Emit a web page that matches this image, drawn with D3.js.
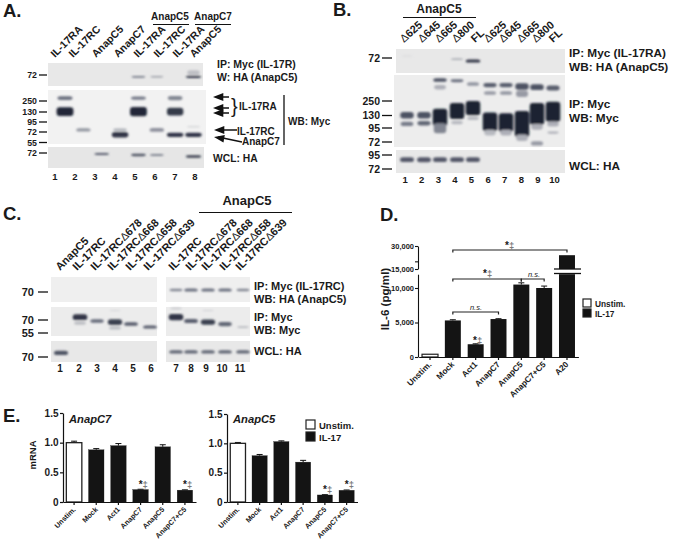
<!DOCTYPE html>
<html><head><meta charset="utf-8">
<style>html,body{margin:0;padding:0;background:#fff}svg{display:block}
text{font-family:"Liberation Sans",Arial,sans-serif;font-weight:bold;fill:#1a1a1a}</style>
<script src="https://cdn.jsdelivr.net/npm/d3@7"></script></head><body>
<script>
// ---------- DATA ----------
// Bar charts
const catsD = ["Unstim.","Mock","Act1","AnapC7","AnapC5","AnapC7+C5","A20"];
const valsD = [400,5300,1850,5500,10500,10000,24000];
const errD  = [0,100,60,50,250,280,0];
const catsE = ["Unstim.","Mock","Act1","AnapC7","AnapC5","AnapC7+C5"];
const valsE7 = [1.0,0.88,0.95,0.21,0.93,0.20];
const errE7  = [0.025,0.02,0.035,0.005,0.035,0.005];
const valsE5 = [1.0,0.79,1.03,0.68,0.12,0.20];
const errE5  = [0.015,0.02,0.012,0.03,0.005,0.005];
// Blot lane labels
const lanesA = ["IL-17RA","IL-17RC","AnapC5","AnapC7","IL-17RA","IL-17RC","IL-17RA","AnapC5"];
const lanesB = ["Δ625","Δ645","Δ665","Δ800","FL","Δ625","Δ645","Δ665","Δ800","FL"];
const lanesC = ["AnapC5","IL-17RC","IL-17RCΔ678","IL-17RCΔ668","IL-17RCΔ658","IL-17RCΔ639","IL-17RC","IL-17RCΔ678","IL-17RCΔ668","IL-17RCΔ658","IL-17RCΔ639"];
// Blot bands: [lane, mobility in panel (0 top..1 bottom), intensity 0..1, spread (share of panel height)]
const bandsA1 = [[5,.6,.55,.08],[6,.6,.38,.07],[8,.6,.9,.1],[8,.42,.2,.2]];
const bandsA2 = [[1,.15,.6,.07],[1,.4,.97,.16],[2,.74,.42,.06],[4,.74,.3,.05],[4,.83,.9,.1],
  [5,.15,.55,.06],[5,.4,.97,.17],[6,.74,.45,.07],[7,.15,.5,.08],[7,.4,.88,.14],[7,.83,.9,.08],[8,.68,.2,.02],[8,.83,.9,.08]];
const bandsA3 = [[3,.33,.7,.1],[5,.38,.75,.11],[6,.38,.5,.1],[8,.45,.85,.12]];
const bandsB1 = [[1,.29,.08,.04],[4,.42,.4,.05],[5,.5,.9,.13]];
const bandsB2 = [[1,.56,.75,.09],[1,.68,.55,.06],[2,.56,.75,.09],[2,.67,.65,.06],
  [3,.07,.75,.05],[3,.17,.3,.06],[3,.59,1,.24],[3,.74,.5,.14],
  [4,.08,.6,.04],[4,.5,1,.22],[4,.66,.25,.05],[5,.125,.42,.05],[5,.46,1,.2],[5,.6,.25,.05],
  [6,.14,.7,.06],[6,.25,.4,.05],[6,.65,1,.26],[6,.8,.25,.08],[7,.14,.7,.06],[7,.25,.42,.05],[7,.66,1,.26],[7,.8,.3,.08],
  [8,.16,.75,.09],[8,.26,.4,.09],[8,.68,1,.36],[8,.87,.3,.09],[9,.17,.75,.08],[9,.54,1,.3],[9,.72,.3,.08],[9,.95,.4,.06],
  [10,.18,.7,.07],[10,.51,1,.28],[10,.68,.3,.07],[10,.8,.3,.03]];
const bandsB3 = [[1,.42,.72,.2],[2,.42,.72,.22],[3,.42,.72,.2],[4,.42,.72,.2],[5,.42,.72,.2]];
const bandsC1 = [[7,.52,.5,.1],[8,.52,.6,.12],[9,.52,.6,.12],[10,.52,.6,.12],[11,.52,.5,.1]];
const bandsC2 = [[2,.35,.9,.2],[2,.55,.22,.12],[3,.48,.62,.12],[4,.12,.12,.04],[4,.52,.85,.2],[4,.72,.22,.12],[5,.59,.7,.12],[6,.69,.7,.11],
  [7,.05,.2,.05],[7,.35,.9,.22],[8,.48,.7,.14],[9,.12,.15,.04],[9,.52,.85,.18],[10,.59,.65,.14],[11,.69,.25,.06]];
const bandsC3 = [[1,.57,.75,.2],[7,.52,.65,.16],[8,.52,.65,.16],[9,.52,.65,.16],[10,.52,.65,.16],[11,.52,.65,.16]];

// ---------- LAYOUT ----------
const W=673,H=543;
const svg=d3.select("body").append("svg").attr("width",W).attr("height",H);
const defs=svg.append("defs");
defs.append("filter").attr("id","blur").attr("x","-30%").attr("y","-80%").attr("width","160%").attr("height","260%")
  .append("feGaussianBlur").attr("stdDeviation","1.1 0.9");
const laneX={
 A:d3.scaleLinear().domain([1,8]).range([65,193.5]),
 B:d3.scaleLinear().domain([1,2,3,4,5,6,7,8,9,10]).range([407,424,440,457,473,490,506,522,537,553]),
 C:d3.scaleLinear().domain([1,2,3,4,5,6,7,8,9,10,11]).range([61,80,97,115,131,150,176,191,208,225,243])
};
function txt(x,y,s,size,opt={}){
  const t=svg.append("text").attr("x",x).attr("y",y).attr("font-size",size);
  String(s).split(/(Δ)/).filter(p=>p).forEach(p=>{
    const sp=t.append("tspan").text(p);
    if(p==="Δ")sp.style("font-weight","normal");
  });
  if(opt.anchor)t.attr("text-anchor",opt.anchor);
  if(opt.rot!==undefined)t.attr("transform",`rotate(${opt.rot},${x},${y})`);
  if(opt.italic)t.style("font-style","italic");
  if(opt.fill)t.style("fill",opt.fill);
  if(opt.normal)t.style("font-weight","normal");
  return t;
}
function line(x1,y1,x2,y2,w=1.2,c="#111"){svg.append("line").attr("x1",x1).attr("y1",y1).attr("x2",x2).attr("y2",y2).attr("stroke",c).attr("stroke-width",w);}
function blot(x0,x1,y0,y1,bands,lx,laneW,bg="#ececec"){
  svg.append("rect").attr("x",x0).attr("y",y0).attr("width",x1-x0).attr("height",y1-y0).attr("fill",bg);
  const my=d3.scaleLinear().domain([0,1]).range([y0,y1]);
  const col=d3.scaleLinear().domain([0,.6,1]).range([bg,"#6c7180","#1c2233"]);
  const g=svg.append("g").attr("filter","url(#blur)");
  g.selectAll("rect").data(bands).join("rect")
   .attr("x",d=>lx(d[0])-laneW*(.72+.28*d[2])/2)
   .attr("width",d=>laneW*(.72+.28*d[2]))
   .attr("y",d=>my(d[1])-d[3]*(y1-y0)/2)
   .attr("height",d=>Math.max(1,d[3]*(y1-y0)))
   .attr("rx",3).attr("fill",d=>col(d[2]));
}
function mwTicks(list,x0,x1,size,lx){
  list.forEach(([lab,y])=>{line(x0,y,x1,y,1.3);txt(lx,y+size*.36,lab,size,{anchor:"end"});});
}
function arrow(x1,y1,x2,y2){ // head at x2,y2
  line(x1,y1,x2+4,y2,1.5);
  const a=Math.atan2(y1-y2,x1-x2),L=11,b=.36;
  svg.append("path").attr("d",`M${x2},${y2}L${x2+L*Math.cos(a-b)},${y2+L*Math.sin(a-b)}L${x2+L*Math.cos(a+b)},${y2+L*Math.sin(a+b)}Z`).attr("fill","#111");
}
// ---------- PANEL LETTERS ----------
[["A.",3,17],["B.",333,16],["C.",3,220],["D.",380,221],["E.",3,422]].forEach(d=>txt(d[1],d[2],d[0],18.5));

// ---------- PANEL A ----------
txt(170,20,"AnapC5",10,{anchor:"middle"});txt(213,20,"AnapC7",10,{anchor:"middle"});
line(153,24.5,189,24.5,1);line(195,24.5,231,24.5,1);
const aLabX=[55,73,96,118,138,158,177,194];
lanesA.forEach((s,i)=>txt(aLabX[i],58,s,10.5,{rot:-45}));
blot(48,203,63,86,bandsA1,laneX.A,16,"#e8e8e8");
blot(48,206,90,144,bandsA2,laneX.A,17,"#f2f2f2");
blot(48,204,147,168,bandsA3,laneX.A,16,"#e6e6e6");
mwTicks([["72",75]],39,47,8.8,37);
mwTicks([["250",101],["130",112],["95",122],["72",132],["55",142.5]],39,47,8.8,37);
mwTicks([["72",153]],39,47,8.8,37);
d3.range(1,9).forEach(i=>txt(35+i*20,180,i,9.5,{anchor:"middle"}));
txt(217,68,"IP: Myc (IL-17R)",10.5);txt(217,81,"W: HA (AnapC5)",10.5);
arrow(229,97,213,97);arrow(229,108,213,108);arrow(229,113,213,113);
txt(231,113,"}",20,{normal:true});
txt(239,110,"IL-17RA",10);txt(237,134.5,"IL-17RC",10);txt(242,144.5,"AnapC7",10);
arrow(237,130,214,130);arrow(242,142,214,137);
line(284,95,284,145,1.3);txt(288,125,"WB: Myc",10);
txt(213,162,"WCL: HA",10.3);

// ---------- PANEL B ----------
txt(439,13,"AnapC5",12,{anchor:"middle"});line(403,17.5,476,17.5,1.2);
const bLabX=[404,422,439,456,475,488,503,521,536,553];
lanesB.forEach((s,i)=>txt(bLabX[i],43,s,11,{rot:-42}));
blot(396,565,49,73,bandsB1,laneX.B,15,"#e8e8e8");
blot(394,565,75,147,bandsB2,laneX.B,14.5,"#ededed");
blot(396,565,150,173,bandsB3,laneX.B,15,"#e8e8e8");
mwTicks([["72",58]],382,392,10.5,380);
mwTicks([["250",101],["130",115.5],["95",128],["72",142]],382,392,10.5,380);
mwTicks([["95",155],["72",169]],382,392,10.5,380);
d3.range(1,11).forEach(i=>txt(388.5+i*16.6,183,i,9.5,{anchor:"middle"}));
txt(569,57,"IP: Myc (IL-17RA)",11.8);txt(569,71,"WB: HA (AnapC5)",11.8);
txt(569,108,"IP: Myc",11.8);txt(569,122,"WB: Myc",11.8);txt(569,170,"WCL: HA",11.8);

// ---------- PANEL C ----------
txt(247,205,"AnapC5",13,{anchor:"middle"});line(199,212.5,292,212.5,1.2);
const cLabX=[60,77,95,112,130,148,173,190,206,224,240];
lanesC.forEach((s,i)=>txt(cLabX[i],271,s,11,{rot:-45}));
[[277,302,bandsC1,"#efefef"],[307,336,bandsC2,"#ececec"],[341,362,bandsC3,"#e8e8e8"]].forEach(([a,b,bd,bg])=>{
  blot(51,157,a,b,bd.filter(d=>d[0]<7),laneX.C,15,bg);
  blot(166,250,a,b,bd.filter(d=>d[0]>=7),laneX.C,15,bg);
});
mwTicks([["70",292]],38,48,11,34);
mwTicks([["70",320],["55",333]],38,48,11,34);
mwTicks([["70",357]],38,48,11,34);
const cNumX=[60,79,97,115,133,151,176,191,206,222,240];
cNumX.forEach((x,i)=>txt(x,372,i+1,10,{anchor:"middle"}));
txt(254,290,"IP: Myc (IL-17RC)",11);txt(254,303,"WB: HA (AnapC5)",11);
txt(254,321,"IP: Myc",11);txt(254,334,"WB: Myc",11);txt(254,355,"WCL: HA",11);

// ---------- BAR CHART HELPERS ----------
function styleAxis(g,size,w){
  g.selectAll("path,line").attr("stroke","#111").attr("stroke-width",w);
  g.selectAll("text").attr("font-size",size);
}
function xAxis(x,y0,size){
  const g=svg.append("g").attr("transform",`translate(0,${y0})`).call(d3.axisBottom(x).tickSize(3).tickSizeOuter(0));
  styleAxis(g,size,1.2);
  g.selectAll("text").attr("text-anchor","end").attr("dx","0").attr("dy","0").attr("x",2).attr("y",8)
    .attr("transform","rotate(-45,2,8)");
}
function errBars(x,y,vals,errs,cats){
  cats.forEach((c,i)=>{ if(!errs[i])return;
    const cx=x(c)+x.bandwidth()/2,t=y(vals[i]+errs[i]);
    line(cx,y(vals[i]),cx,t,1);line(cx-3,t,cx+3,t,1);
  });
}
function mark(x,y){ txt(x,y,"*",10,{anchor:"end"});txt(x,y,"‡",9.5,{fill:"#777"}); }

// ---------- PANEL D ----------
const xD=d3.scaleBand().domain(catsD).range([418.6,578.4]).paddingInner(.3).paddingOuter(.15);
const yLow=d3.scaleLinear().domain([0,12000]).range([357,274.2]);
const yUp=d3.scaleLinear().domain([15000,30000]).range([269,246]);
const fmt=d3.format(",");
const gL=svg.append("g").attr("transform","translate(418,0)").call(d3.axisLeft(yLow).tickValues([0,5000,10000]).tickFormat(fmt).tickSize(3).tickPadding(1).tickSizeOuter(0));
styleAxis(gL,7.5,1.1);
const gU=svg.append("g").attr("transform","translate(418,0)").call(d3.axisLeft(yUp).tickValues([15000,20000,30000]).tickFormat(d=>d===20000?"":fmt(d)).tickSize(3).tickPadding(1).tickSizeOuter(0));
styleAxis(gU,7.5,1.1);
errBars(xD,yLow,valsD,errD,catsD);
catsD.forEach((c,i)=>{
  const v=valsD[i],bx=xD(c),bw=xD.bandwidth();
  const r=(y0,y1)=>svg.append("rect").attr("x",bx).attr("width",bw).attr("y",y0).attr("height",y1-y0)
     .attr("fill",i===0?"#fff":"#141414").attr("stroke",i===0?"#222":"none").attr("stroke-width",1.2);
  if(v<=12000) r(yLow(v),yLow(0));
  else { r(yUp(v),yUp(15000)); r(yLow(12000),yLow(0)); }
});
line(554,269,581,269,1.3);line(554,273.5,581,273.5,1.3);
xAxis(xD,357,8.3);
txt(389,299,"IL-6 (pg/ml)",11.6,{anchor:"middle",rot:-90});
function bracket(c1,c2,yv){
  const a=xD(c1)+xD.bandwidth()/2,b=xD(c2)+xD.bandwidth()/2;
  svg.append("path").attr("fill","none").attr("stroke","#222").attr("stroke-width",1.2)
    .attr("d",`M${a},${yv+2.5}V${yv}H${b}V${yv+2.5}`);
}
bracket("Mock","A20",250);bracket("Mock","AnapC5",279);bracket("AnapC5","AnapC7+C5",279);bracket("Mock","AnapC7",312);
mark(509,249);mark(487,277);mark(477,344);
txt(534,277,"n.s.",7.5,{anchor:"middle",italic:true,normal:true});
txt(476,310,"n.s.",7.5,{anchor:"middle",italic:true,normal:true});
[[583,299,"#fff","Unstim."],[583,309,"#111","IL-17"]].forEach(d=>{
  svg.append("rect").attr("x",d[0]).attr("y",d[1]).attr("width",8).attr("height",8).attr("fill",d[2]).attr("stroke","#222").attr("stroke-width",1.2);
  txt(595,d[1]+7.5,d[3],8.3);
});

// ---------- PANEL E ----------
function barE(vals,errs,x0,x1,y0,yTop,title,titleX){
  const x=d3.scaleBand().domain(catsE).range([x0,x1]).paddingInner(.3).paddingOuter(.15);
  const y=d3.scaleLinear().domain([0,1.5]).range([y0,yTop]);
  const ga=svg.append("g").attr("transform",`translate(${x0},0)`).call(d3.axisLeft(y).tickValues([0,.5,1,1.5]).tickFormat(d=>d===0?"0":d3.format(".1f")(d)).tickSize(3).tickPadding(1.5).tickSizeOuter(0));
  styleAxis(ga,10,1.2);
  errBars(x,y,vals,errs,catsE);
  svg.append("g").selectAll("rect").data(catsE).join("rect")
    .attr("x",c=>x(c)).attr("width",x.bandwidth()).attr("y",(c,i)=>y(vals[i])).attr("height",(c,i)=>y(0)-y(vals[i]))
    .attr("fill",(c,i)=>i===0?"#fff":"#141414").attr("stroke","#222").attr("stroke-width",(c,i)=>i===0?1.3:0.3);
  xAxis(x,y0,7.2);
  txt(titleX,423,title,11.2,{italic:true});
  return {x,y};
}
const e7=barE(valsE7,errE7,63,196,502,413,"AnapC7",69);
const e5=barE(valsE5,errE5,227,357.5,502,414,"AnapC5",233);
mark(e7.x("AnapC7")+e7.x.bandwidth()/2+2,e7.y(valsE7[3])-2);
mark(e7.x("AnapC7+C5")+e7.x.bandwidth()/2+2,e7.y(valsE7[5])-2);
mark(e5.x("AnapC5")+e5.x.bandwidth()/2+2,e5.y(valsE5[4])-2);
mark(e5.x("AnapC7+C5")+e5.x.bandwidth()/2+2,e5.y(valsE5[5])-2);
txt(36,455,"mRNA",9.5,{anchor:"middle",rot:-90});
[[306,420,"#fff","Unstim."],[306,432,"#111","IL-17"]].forEach(d=>{
  svg.append("rect").attr("x",d[0]).attr("y",d[1]).attr("width",9).attr("height",9).attr("fill",d[2]).attr("stroke","#222").attr("stroke-width",1.2);
  txt(319,d[1]+8.5,d[3],9.5);
});
</script></body></html>
